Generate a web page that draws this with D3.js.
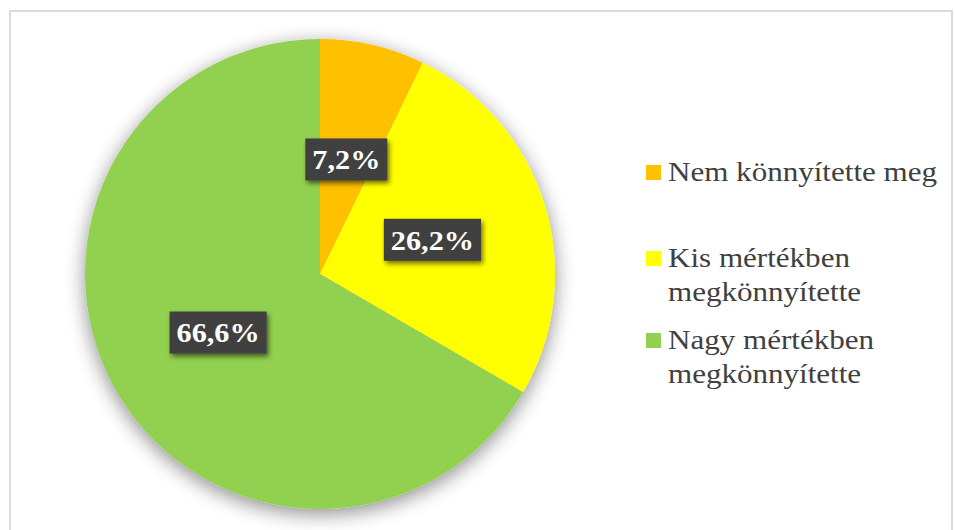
<!DOCTYPE html>
<html>
<head>
<meta charset="utf-8">
<script src="https://cdn.jsdelivr.net/npm/d3@7"></script>
<style>
  html, body { margin: 0; padding: 0; background: #ffffff; }
  svg { display: block; }
</style>
</head>
<body>
<svg id="chart" width="955" height="530"></svg>
<script>
// Survey answers and their shares (percent)
const categories = ["Nem könnyítette meg", "Kis mértékben megkönnyítette", "Nagy mértékben megkönnyítette"];
const legendLines = [["Nem könnyítette meg"], ["Kis mértékben", "megkönnyítette"], ["Nagy mértékben", "megkönnyítette"]];
const values = [7.2, 26.2, 66.6];
const valueLabels = ["7,2%", "26,2%", "66,6%"];
const colors = ["#FFC000", "#FFFF00", "#92D050"];

const svg = d3.select("#chart");
const W = 955, H = 530;

svg.append("rect").attr("width", W).attr("height", H).attr("fill", "#ffffff");

// chart frame
svg.append("rect")
  .attr("x", 10).attr("y", 11)
  .attr("width", 942).attr("height", 540)
  .attr("fill", "none")
  .attr("stroke", "#dadada")
  .attr("stroke-width", 2);

const defs = svg.append("defs");

// soft glow-like shadow under the pie
const pieShadow = defs.append("filter").attr("id", "pieShadow")
  .attr("x", "-20%").attr("y", "-20%").attr("width", "140%").attr("height", "140%");
pieShadow.append("feGaussianBlur").attr("in", "SourceAlpha").attr("stdDeviation", 10).attr("result", "b");
pieShadow.append("feOffset").attr("in", "b").attr("dx", 0).attr("dy", 5).attr("result", "o");
pieShadow.append("feComponentTransfer").attr("in", "o").attr("result", "s")
  .append("feFuncA").attr("type", "linear").attr("slope", 0.45);
const m1 = pieShadow.append("feMerge");
m1.append("feMergeNode").attr("in", "s");
m1.append("feMergeNode").attr("in", "SourceGraphic");

// shadow for the value label boxes
const boxShadow = defs.append("filter").attr("id", "boxShadow")
  .attr("x", "-20%").attr("y", "-30%").attr("width", "140%").attr("height", "160%");
boxShadow.append("feGaussianBlur").attr("in", "SourceAlpha").attr("stdDeviation", 2.5).attr("result", "b");
boxShadow.append("feOffset").attr("in", "b").attr("dx", 2).attr("dy", 3).attr("result", "o");
boxShadow.append("feComponentTransfer").attr("in", "o").attr("result", "s")
  .append("feFuncA").attr("type", "linear").attr("slope", 0.55);
const m2 = boxShadow.append("feMerge");
m2.append("feMergeNode").attr("in", "s");
m2.append("feMergeNode").attr("in", "SourceGraphic");

const cx = 320, cy = 274, radius = 235;

const pie = d3.pie().sort(null).value(d => d)(values);
const arc = d3.arc().innerRadius(0).outerRadius(radius);

const g = svg.append("g").attr("transform", `translate(${cx},${cy})`);

g.append("g").attr("filter", "url(#pieShadow)")
  .selectAll("path")
  .data(pie)
  .join("path")
  .attr("d", arc)
  .attr("fill", (d, i) => colors[i]);

// value labels in dark boxes at slice centroids
const labels = g.selectAll("g.lbl")
  .data(pie)
  .join("g")
  .attr("class", "lbl")
  .attr("transform", d => `translate(${arc.centroid(d)})`);

labels.each(function (d, i) {
  const sel = d3.select(this);
  const t = sel.append("text")
    .attr("text-anchor", "middle")
    .attr("dy", "0.35em")
    .attr("font-family", "'Liberation Serif', 'Times New Roman', serif")
    .attr("font-weight", "bold")
    .attr("font-size", 28)
    .attr("fill", "#ffffff")
    .text(valueLabels[i]);
  const natural = t.node().getComputedTextLength();
  t.attr("textLength", natural * 1.08).attr("lengthAdjust", "spacingAndGlyphs");
  const bw = natural * 1.08;
  const padX = 7, h = 42;
  sel.insert("rect", "text")
    .attr("x", -bw / 2 - padX)
    .attr("y", -h / 2)
    .attr("width", bw + padX * 2)
    .attr("height", h)
    .attr("fill", "#404040")
    .attr("filter", "url(#boxShadow)");
});

// legend
const legendX = 646;
const rowBase = [181, 267, 349];
const lineGap = 34;
const legend = svg.append("g");
legendLines.forEach((lines, i) => {
  legend.append("rect")
    .attr("x", legendX)
    .attr("y", rowBase[i] - 16)
    .attr("width", 15)
    .attr("height", 15)
    .attr("fill", colors[i]);
  lines.forEach((ln, j) => {
    const t = legend.append("text")
      .attr("x", legendX + 22)
      .attr("y", rowBase[i] + j * lineGap)
      .attr("font-family", "'Liberation Serif', 'Times New Roman', serif")
      .attr("font-size", 27)
      .attr("fill", "#404040")
      .text(ln);
    const len = t.node().getComputedTextLength();
    t.attr("textLength", len * 1.15).attr("lengthAdjust", "spacingAndGlyphs");
  });
});
</script>
</body>
</html>
